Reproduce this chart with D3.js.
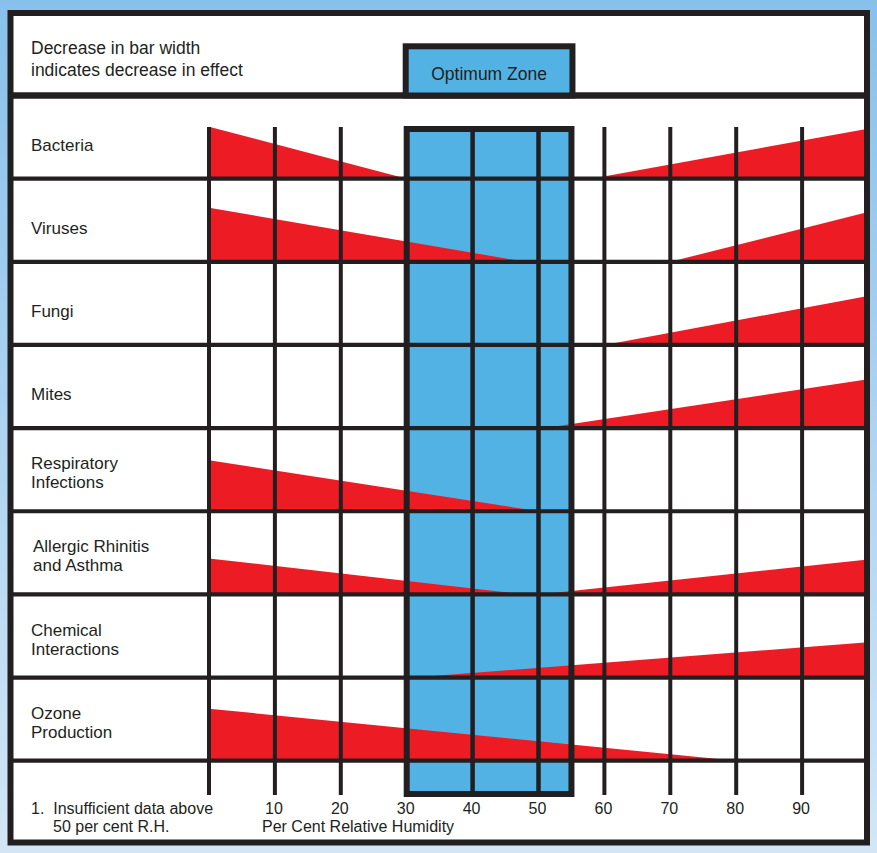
<!DOCTYPE html>
<html><head><meta charset="utf-8">
<script src="https://cdn.jsdelivr.net/npm/d3@7"></script>
<style>html,body{margin:0;padding:0;background:#fff;} svg{display:block;}</style>
</head><body><div id="chart"></div>
<script>
// ---- data ----
const categories = ["Bacteria", "Viruses", "Fungi", "Mites", "Respiratory\nInfections",
  "Allergic Rhinitis\nand Asthma", "Chemical\nInteractions", "Ozone\nProduction"];
const humidityTicks = [10, 20, 30, 40, 50, 60, 70, 80, 90];
const gridHumidity = [0, 10, 20, 40, 50, 60, 70, 80, 90];
const optimumZone = [30, 55];
// effect (relative bar width, 100 = full) at low humidity, tapering to zero
const leftEffectAtZero = [100, 104, 0, 0, 98, 69, 0, 100];
const leftEffectEndsAt = [30, 48, null, null, 50, 48, null, 80];
// effect starting from zero, growing to the value at 100% RH
const rightEffectStartsAt = [58, 70, 60, 51, null, 50, 31, null];
const rightEffectAtHundred = [96, 96, 94, 94, 0, 67, 68, 0];
const headerNote = ["Decrease in bar width", "indicates decrease in effect"];
const footNote = ["1.  Insufficient data above", "50 per cent R.H."];
const axisTitle = "Per Cent Relative Humidity";

// ---- layout ----
const W = 877, H = 853;
const ink = "#231f20", red = "#ed1c24", blue = "#53b2e4";
const font = "'Liberation Sans', Arial, Helvetica, sans-serif";

const svg = d3.select("#chart").append("svg").attr("width", W).attr("height", H);
const defs = svg.append("defs");
const grad = defs.append("linearGradient").attr("id", "bg").attr("x1", 0).attr("y1", 0).attr("x2", 0).attr("y2", 1);
grad.append("stop").attr("offset", "0%").attr("stop-color", "#87c1eb");
grad.append("stop").attr("offset", "100%").attr("stop-color", "#d3e6f6");
svg.append("rect").attr("width", W).attr("height", H).attr("fill", "url(#bg)");

const x = d3.scaleLinear().domain([0, 100]).range([209, 868]);
const y = d3.scaleBand().domain(categories).range([95.5, 760.7]).paddingInner(0).paddingOuter(0);
const effect = d3.scaleLinear().domain([0, 100]).range([0, 52]);
const gridTop = 127, gridBottom = 795;

// frame background
svg.append("rect").attr("x", 10.5).attr("y", 13).attr("width", 856.5).attr("height", 829.5)
  .attr("fill", "#fff");

// optimum zone fill (main)
svg.append("rect").attr("x", x(optimumZone[0])).attr("y", 129)
  .attr("width", x(optimumZone[1]) - x(optimumZone[0])).attr("height", 794 - 129)
  .attr("fill", blue);

// red effect wedges
const area = d3.area().x(d => x(d[0])).y0(d => d[2]).y1(d => d[2] - effect(d[1]));
const wedges = [];
categories.forEach((c, i) => {
  const base = y(c) + y.bandwidth();
  if (leftEffectEndsAt[i] != null) wedges.push([[0, leftEffectAtZero[i], base], [leftEffectEndsAt[i], 0, base]]);
  if (rightEffectStartsAt[i] != null) wedges.push([[rightEffectStartsAt[i], 0, base], [100, rightEffectAtHundred[i], base]]);
});
svg.append("g").selectAll("path").data(wedges).join("path")
  .attr("d", area).attr("fill", red);

// horizontal row lines
svg.append("g").selectAll("line").data(categories).join("line")
  .attr("x1", 10).attr("x2", 867)
  .attr("y1", d => y(d) + y.bandwidth()).attr("y2", d => y(d) + y.bandwidth())
  .attr("stroke", ink).attr("stroke-width", 4.2);

// vertical grid lines
svg.append("g").selectAll("line").data(gridHumidity).join("line")
  .attr("x1", d => x(d)).attr("x2", d => x(d)).attr("y1", gridTop).attr("y2", gridBottom)
  .attr("stroke", ink).attr("stroke-width", d => (d === 40 || d === 50) ? 4.5 : 4);

// optimum zone box (main)
svg.append("rect").attr("x", x(optimumZone[0])).attr("y", 129)
  .attr("width", x(optimumZone[1]) - x(optimumZone[0])).attr("height", 794 - 129)
  .attr("fill", "none").attr("stroke", ink).attr("stroke-width", 6);

// header separator
svg.append("line").attr("x1", 10).attr("x2", 867).attr("y1", 95.5).attr("y2", 95.5)
  .attr("stroke", ink).attr("stroke-width", 6.5);

// header optimum box
svg.append("rect").attr("x", x(optimumZone[0]) - 1).attr("y", 46.3)
  .attr("width", x(optimumZone[1]) - x(optimumZone[0]) + 2).attr("height", 95.5 - 46.3)
  .attr("fill", blue).attr("stroke", ink).attr("stroke-width", 6);
svg.append("text").attr("x", (x(optimumZone[0]) + x(optimumZone[1])) / 2).attr("y", 79.5)
  .attr("text-anchor", "middle").attr("font-family", font).attr("font-size", 17.5)
  .attr("fill", ink).text("Optimum Zone");

// header note
svg.append("g").selectAll("text").data(headerNote).join("text")
  .attr("x", 31).attr("y", (d, i) => 54 + i * 22)
  .attr("font-family", font).attr("font-size", 17.5).attr("fill", ink).text(d => d);

// row labels
const labels = svg.append("g");
categories.forEach((c, i) => {
  const base = y(c) + y.bandwidth();
  const lines = c.split("\n");
  const t = labels.append("text").attr("font-family", font).attr("font-size", 17).attr("fill", ink);
  lines.forEach((ln, j) => {
    const by = lines.length === 1 ? base - 28 : base - 42 + j * 19;
    t.append("tspan").attr("x", i === 5 ? 33 : 31).attr("y", by).text(ln);
  });
});

// axis tick labels
svg.append("g").selectAll("text").data(humidityTicks).join("text")
  .attr("x", d => x(d) - 1).attr("y", 814).attr("text-anchor", "middle")
  .attr("font-family", font).attr("font-size", 16).attr("fill", ink).text(d => d);
svg.append("text").attr("x", 262).attr("y", 832).attr("font-family", font).attr("font-size", 16)
  .attr("fill", ink).text(axisTitle);

// footnote
svg.append("g").selectAll("text").data(footNote).join("text")
  .attr("x", (d, i) => i === 0 ? 31 : 53).attr("y", (d, i) => i === 0 ? 814 : 832)
  .attr("xml:space", "preserve")
  .attr("font-family", font).attr("font-size", 16).attr("fill", ink).text(d => d);

// outer frame
svg.append("rect").attr("x", 10.5).attr("y", 13).attr("width", 856.5).attr("height", 829.5)
  .attr("fill", "none").attr("stroke", ink).attr("stroke-width", 6);
</script>
</body></html>
